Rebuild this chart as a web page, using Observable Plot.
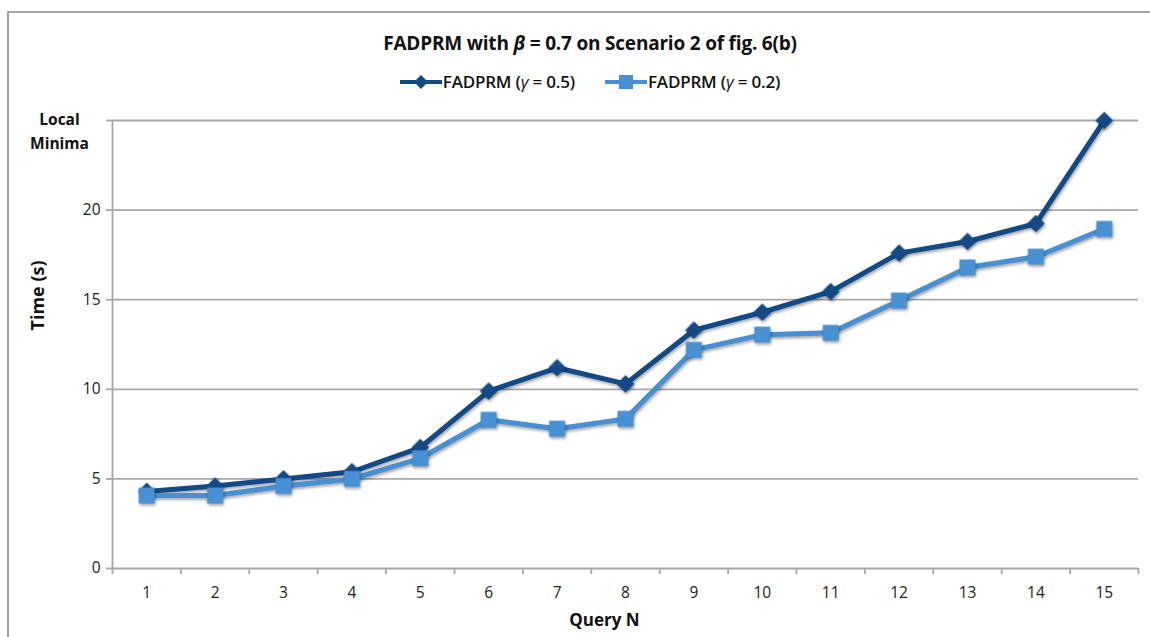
<!DOCTYPE html>
<html>
<head>
<meta charset="utf-8">
<script src="https://cdn.jsdelivr.net/npm/d3@7"></script>
<script src="https://cdn.jsdelivr.net/npm/@observablehq/plot@0.6"></script>
<style>
  html, body { margin: 0; padding: 0; background: #fff; }
  #wrap { position: relative; width: 1150px; height: 637px; overflow: hidden; font-family: "Open Sans", "Noto Sans", sans-serif; }
  #frame { position: absolute; left: 7px; top: 11px; right: -4px; bottom: -4px; border-left: 2px solid #a3a3a3; border-top: 2px solid #a3a3a3; }
  #chart { position: absolute; left: 0; top: 0; }
  #title { position: absolute; left: 240px; width: 700px; top: 30px; text-align: center; font-size: 19px; font-weight: 700; color: #111; letter-spacing: -0.2px; }
  #legend { position: absolute; left: 240px; width: 700px; top: 70px; display: flex; justify-content: center; gap: 30px; font-size: 17px; font-weight: 600; color: #111; letter-spacing: -0.2px; }
  .item { display: flex; align-items: center; }
  .item svg { margin-right: 1px; }
  svg [aria-label="line"], svg [aria-label="dot"] { filter: drop-shadow(1.5px 2.5px 1.5px rgba(0,0,0,0.35)); }
</style>
</head>
<body>
<div id="wrap">
  <div id="frame"></div>
  <div id="chart"></div>
  <div id="title">FADPRM with <i>β</i> = 0.7 on Scenario 2 of fig. 6(b)</div>
  <div id="legend"></div>
</div>
<script>
const queries = [1, 2, 3, 4, 5, 6, 7, 8, 9, 10, 11, 12, 13, 14, 15];
const gamma05 = [4.3, 4.6, 5.0, 5.4, 6.75, 9.9, 11.2, 10.3, 13.3, 14.3, 15.45, 17.6, 18.25, 19.25, 25];
const gamma02 = [4.07, 4.07, 4.6, 5.0, 6.15, 8.3, 7.8, 8.35, 12.2, 13.05, 13.15, 14.95, 16.8, 17.4, 18.95];
const seriesNames = ["FADPRM (γ = 0.5)", "FADPRM (γ = 0.2)"];
const yTicks = [0, 5, 10, 15, 20, 25];
const yTickLabels = ["0", "5", "10", "15", "20"];
const topLabel = "Local\nMinima";

const dark = "#114a86";
const light = "#4690d3";
const grid = "#a6a6a6";

const d05 = queries.map((q, i) => ({q, v: gamma05[i]}));
const d02 = queries.map((q, i) => ({q, v: gamma02[i]}));
const bounds = [queries[0] - 0.5, ...queries.map(q => q + 0.5)];

const chart = Plot.plot({
  width: 1150,
  height: 637,
  marginLeft: 112,
  marginRight: 12,
  marginTop: 120,
  marginBottom: 69,
  style: {fontFamily: "'Open Sans', 'Noto Sans', sans-serif", fontSize: "15px", color: "#222", background: "transparent"},
  x: {type: "linear", domain: [queries[0] - 0.5, queries[queries.length - 1] + 0.5], axis: null},
  y: {domain: [0, 25], axis: null},
  marks: [
    Plot.ruleY(yTicks.slice(1), {stroke: grid, strokeWidth: 1.8}),
    Plot.ruleY([0], {stroke: grid, strokeWidth: 1.8}),
    Plot.ruleX([bounds[0]], {stroke: grid, strokeWidth: 1.8}),
    Plot.axisY({ticks: yTicks, tickSize: 6, stroke: grid, strokeWidth: 1.8, tickFormat: () => "", label: null}),
    Plot.axisX({ticks: bounds, tickSize: 6, stroke: grid, strokeWidth: 1.8, tickFormat: () => "", label: null}),
    Plot.text(yTickLabels, {y: d => +d, x: bounds[0], dx: -12, textAnchor: "end", text: d => d, fontSize: 15.5, fill: "#222"}),
    Plot.text(queries, {x: d => d, frameAnchor: "bottom", dy: 29, text: d => String(d), fontSize: 15.5, fill: "#222"}),
    Plot.text([topLabel], {x: bounds[0], y: 25, dx: -53, dy: 9, text: d => d, fontWeight: 700, fontSize: 15.5, lineHeight: 1.5, fill: "#111"}),
    Plot.text(["Time (s)"], {frameAnchor: "left", dx: -74, dy: -14, rotate: -90, fontWeight: 700, fontSize: 18, fill: "#111"}),
    Plot.text(["Query N"], {frameAnchor: "bottom", dx: -21, dy: 57, fontWeight: 700, fontSize: 17, fill: "#111"}),
    Plot.line(d05, {x: "q", y: "v", stroke: dark, strokeWidth: 5}),
    Plot.dot(d05, {x: "q", y: "v", symbol: "diamond2", r: 7.5, fill: dark, stroke: dark, strokeWidth: 1}),
    Plot.line(d02, {x: "q", y: "v", stroke: light, strokeWidth: 5}),
    Plot.dot(d02, {x: "q", y: "v", symbol: "square", r: 9, fill: light, stroke: "none"})
  ]
});
document.getElementById("chart").appendChild(chart);

const legend = document.getElementById("legend");
const colors = [dark, light];
const syms = ["diamond", "square"];
seriesNames.forEach((name, i) => {
  const item = document.createElement("div");
  item.className = "item";
  const sw = d3.create("svg").attr("width", 42).attr("height", 18);
  sw.append("line").attr("x1", 0).attr("x2", 42).attr("y1", 9).attr("y2", 9).attr("stroke", colors[i]).attr("stroke-width", 4);
  if (syms[i] === "diamond") {
    sw.append("path").attr("d", "M21,2L28,9L21,16L14,9Z").attr("fill", colors[i]);
  } else {
    sw.append("rect").attr("x", 14).attr("y", 2).attr("width", 14).attr("height", 14).attr("fill", colors[i]);
  }
  item.appendChild(sw.node());
  const t = document.createElement("span");
  const parts = name.split("γ");
  t.appendChild(document.createTextNode(parts[0]));
  const g = document.createElement("i");
  g.textContent = "γ";
  g.style.fontWeight = "400";
  t.appendChild(g);
  t.appendChild(document.createTextNode(parts[1]));
  item.appendChild(t);
  legend.appendChild(item);
});
</script>
</body>
</html>
